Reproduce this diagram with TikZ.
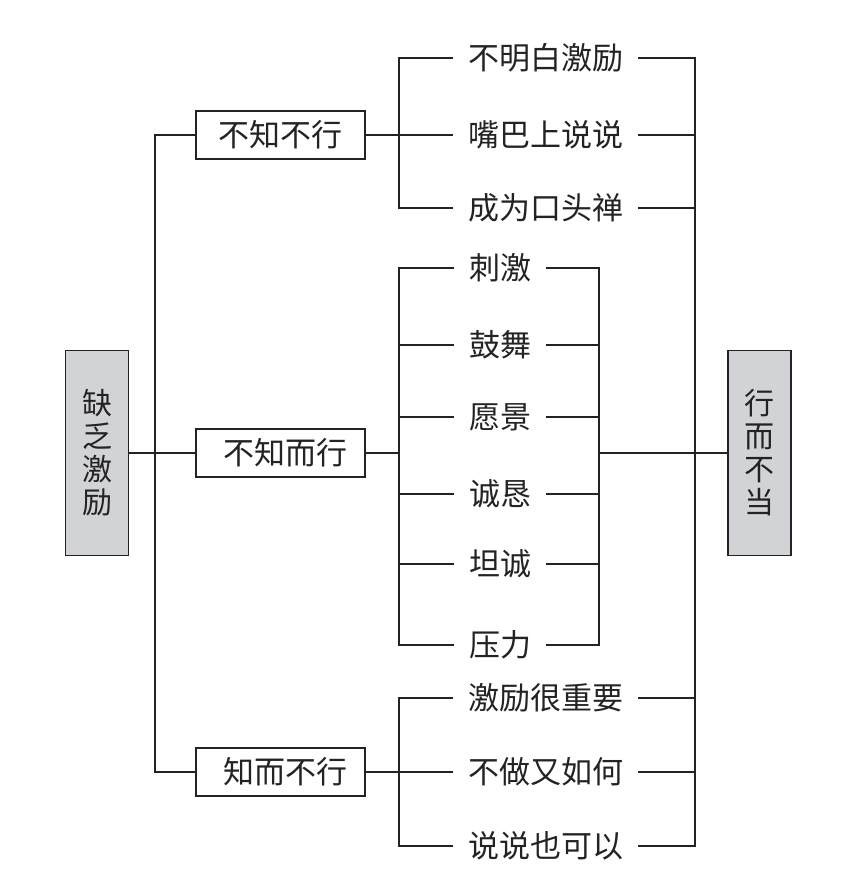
\documentclass[tikz,border=0pt]{standalone}
\usepackage{fontspec}
\setmainfont{Noto Sans CJK SC}
\definecolor{boxgray}{RGB}{210,211,214}
\definecolor{ink}{RGB}{35,35,35}
\tikzset{
  conn/.style={draw=ink, line width=1.3pt},
  sidebox/.style={draw=ink, line width=1.3pt, fill=boxgray, minimum width=63pt, minimum height=205pt, inner sep=0pt, align=center, font=\fontsize{30}{33}\selectfont, text=ink},
  midbox/.style={draw=ink, line width=1.3pt, fill=white, minimum width=169pt, minimum height=48pt, inner sep=0pt, font=\fontsize{31}{31}\selectfont, text=ink},
  leaf/.style={anchor=west, inner xsep=15pt, inner ysep=0pt, font=\fontsize{31}{31}\selectfont, text=ink}
}
\begin{document}
\begin{tikzpicture}[x=1pt,y=-1pt]
\useasboundingbox (0,0) rectangle (853,882);
% side boxes
\node[sidebox] (L) at (97,453) {缺\\乏\\激\\励};
\node[sidebox] (R) at (759.5,453) {行\\而\\不\\当};
% middle boxes
\node[midbox] (b1) at (280.5,135) {不知不行};
\node[midbox] (b2) at (280.5,453) {\hspace{10pt}不知而行};
\node[midbox] (b3) at (280.5,772) {\hspace{10pt}知而不行};
% leaves group 1
\node[leaf] (a1) at (453,58) {不明白激励};
\node[leaf] (a2) at (453,135) {嘴巴上说说};
\node[leaf] (a3) at (453,208) {成为口头禅};
% leaves group 2
\node[leaf] (m1) at (454,268) {刺激};
\node[leaf] (m2) at (454,345) {鼓舞};
\node[leaf] (m3) at (454,417) {愿景};
\node[leaf] (m4) at (454,494) {诚恳};
\node[leaf] (m5) at (454,564) {坦诚};
\node[leaf] (m6) at (454,645) {压力};
% leaves group 3
\node[leaf] (c1) at (453,698) {激励很重要};
\node[leaf] (c2) at (453,772) {不做又如何};
\node[leaf] (c3) at (453,846) {说说也可以};
% junction coordinates
\coordinate (jL) at (155,453);
\coordinate (j1) at (399,135);
\coordinate (j2) at (399,453);
\coordinate (j3) at (399,772);
\coordinate (k2) at (599,453);
\coordinate (kR) at (695,453);
% left tree
\draw[conn] (L.east) -- (b2.west);
\draw[conn] (b1.west) -| (jL) |- (b3.west);
% group 1
\draw[conn] (b1.east) -- (a2.west);
\draw[conn] (a1.west) -| (j1) |- (a3.west);
% group 2
\draw[conn] (b2.east) -- (j2);
\draw[conn] (m1.west) -| (j2) |- (m6.west);
\draw[conn] (m2.west) -- (m2.west -| j2);
\draw[conn] (m3.west) -- (m3.west -| j2);
\draw[conn] (m4.west) -- (m4.west -| j2);
\draw[conn] (m5.west) -- (m5.west -| j2);
% group 3
\draw[conn] (b3.east) -- (c2.west);
\draw[conn] (c1.west) -| (j3) |- (c3.west);
% right side group 2
\draw[conn] (m1.east) -| (k2) |- (m6.east);
\draw[conn] (m2.east) -- (m2.east -| k2);
\draw[conn] (m3.east) -- (m3.east -| k2);
\draw[conn] (m4.east) -- (m4.east -| k2);
\draw[conn] (m5.east) -- (m5.east -| k2);
\draw[conn] (k2) -- (R.west);
% right side groups 1 and 3
\draw[conn] (a1.east) -| (kR) |- (c3.east);
\draw[conn] (a2.east) -- (a2.east -| kR);
\draw[conn] (a3.east) -- (a3.east -| kR);
\draw[conn] (c1.east) -- (c1.east -| kR);
\draw[conn] (c2.east) -- (c2.east -| kR);
\end{tikzpicture}
\end{document}
